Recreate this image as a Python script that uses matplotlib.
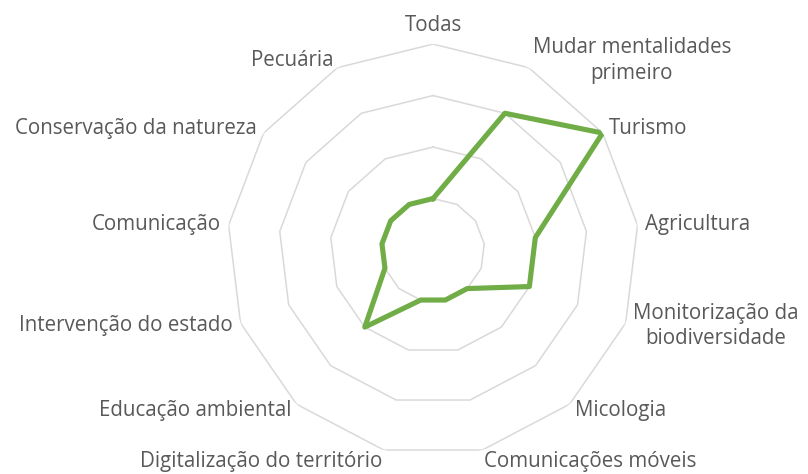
import numpy as np
import matplotlib
matplotlib.use('Agg')
from matplotlib import pyplot as plt

# categories, clockwise from the top
categories = ['Todas', 'Mudar mentalidades\nprimeiro', 'Turismo', 'Agricultura',
              'Monitorização da\nbiodiversidade', 'Micologia', 'Comunicações móveis',
              'Digitalização do território', 'Educação ambiental',
              'Intervenção do estado', 'Comunicação', 'Conservação da natureza',
              'Pecuária']
values = [1, 3, 4, 2, 2, 1, 1, 1, 2, 1, 1, 1, 1]
rings = [1, 2, 3, 4]

plt.rcParams['font.family'] = ['Open Sans', 'DejaVu Sans']

n = len(categories)
theta = np.arange(n) * 2 * np.pi / n
theta_c = np.append(theta, theta[0])

fig = plt.figure(figsize=(8.08, 4.74), dpi=100)
ax = fig.add_axes([0.281, 0.038, 0.51, 0.869], projection='polar')
ax.set_theta_offset(np.pi / 2)
ax.set_theta_direction(-1)
ax.set_ylim(0, rings[-1])
ax.grid(False)
ax.spines['polar'].set_visible(False)
ax.set_xticks([])
ax.set_yticks([])
ax.patch.set_alpha(0)

# polygon gridlines
for r in rings:
    ax.plot(theta_c, [r] * (n + 1), color='#D9D9D9', lw=1.1, zorder=1)

# data
vals_c = values + values[:1]
ax.plot(theta_c, vals_c, color='#70AD47', lw=3.7, solid_joinstyle='round', zorder=3)

# category labels
for t, lab in zip(theta, categories):
    s, c = np.sin(t), np.cos(t)
    if abs(s) < 0.1:
        ha = 'center'
    elif s > 0:
        ha = 'left'
    else:
        ha = 'right'
    va = 'bottom' if c > 0.95 else 'center'
    k = 8 * 0.72
    dy = k * c if c > -0.9 else -11 * 0.72
    ax.annotate(lab, xy=(t, rings[-1]), xytext=(k * s, dy), textcoords='offset points',
                ha=ha, va=va, multialignment='center', fontsize=14.8, linespacing=1.3,
                color='#595959', annotation_clip=False)

fig.savefig('out.png', dpi=100)
